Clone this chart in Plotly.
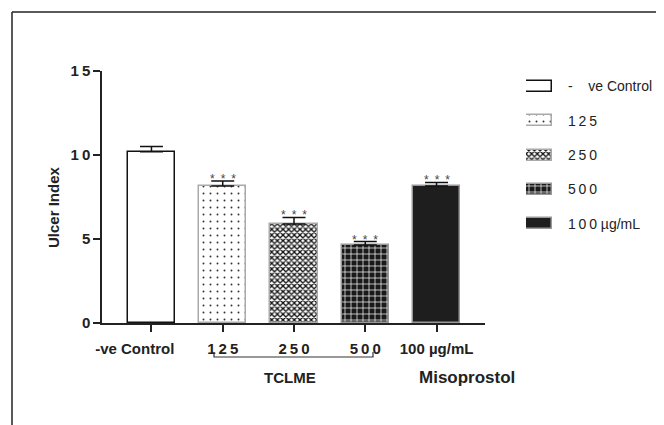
import plotly.graph_objects as go

# ---------------- data ----------------
categories = ["-ve Control", "125", "250", "500", "100 µg/mL"]
tick_text = ["-ve Control\u2007\u2007\u2007\u2007", "1\u20092\u20095", "2\u20095\u20090", "5\u20090\u20090", "100 µg/mL"]
ulcer_index = [10.2, 8.15, 5.9, 4.65, 8.15]
sem = [0.3, 0.3, 0.38, 0.2, 0.22]
significance = ["", "*\u2002*\u2002*", "*\u2002*\u2002*", "*\u2002*\u2002*", "*\u2002*\u2002*"]
legend_labels = ["-\u00a0\u00a0\u00a0\u00a0ve Control", "1\u20092\u20095", "2\u20095\u20090", "5\u20090\u20090", "1\u20090\u20090 µg/mL"]
y_ticks = [0, 5, 10, 15]
y_tick_text = ["0", "5", "1\u20090", "1\u20095"]

FONT = "Liberation Sans, Arial, sans-serif"
OFF = 8  # page body margin
W, H = 664 - OFF, 425 - OFF

fills = [
    dict(color="white", line=dict(color="#111", width=1.5)),
    dict(color="white", line=dict(color="#aaa", width=1.5),
         pattern=dict(shape=".", fgcolor="#333", bgcolor="white", size=7, solidity=0.06)),
    dict(color="white", line=dict(color="#aaa", width=1.5),
         pattern=dict(shape="x", fgcolor="#111", bgcolor="white", size=4, solidity=0.55)),
    dict(color="#1a1a1a", line=dict(color="#999", width=1.5),
         pattern=dict(shape="+", fgcolor="white", bgcolor="#1a1a1a", size=6, solidity=0.22)),
    dict(color="#1e1e1e", line=dict(color="#999", width=1.5)),
]

fig = go.Figure()

xpos = list(range(len(categories)))
for i in range(len(categories)):
    fig.add_trace(go.Bar(
        x=[xpos[i]], y=[ulcer_index[i]], width=0.66,
        marker=fills[i],
        error_y=dict(type="data", symmetric=False, array=[sem[i]], arrayminus=[0],
                     color="#111", thickness=1.5, width=11.5),
        showlegend=False, xaxis="x", yaxis="y",
    ))
    # legend swatch as horizontal bar on a separate axis
    fig.add_trace(go.Bar(
        x=[1], y=[i], orientation="h", width=0.32, marker=fills[i],
        showlegend=False, xaxis="x2", yaxis="y2", hoverinfo="skip",
    ))

def px_x(p):
    return (p - OFF) / W

def px_y(p):
    return 1 - (p - OFF) / H

annotations = []
for i in range(len(categories)):
    if significance[i]:
        annotations.append(dict(
            x=xpos[i], y=ulcer_index[i] + sem[i], xref="x", yref="y",
            text=significance[i], showarrow=False, yanchor="bottom",
            yshift=-7, font=dict(family=FONT, size=12, color="#444"),
        ))
    annotations.append(dict(
        x=px_x(566), y=i, xref="paper", yref="y2", text=legend_labels[i],
        showarrow=False, xanchor="left", yanchor="middle",
        font=dict(family=FONT, size=14, color="#222"),
    ))

annotations += [
    dict(x=2, y=px_y(377), xref="x", yref="paper", text="<b>TCLME</b>", showarrow=False,
         xanchor="center", yanchor="middle", xshift=-4, font=dict(family=FONT, size=15, color="#222")),
    dict(x=4, y=px_y(377), xref="x", yref="paper", text="<b>Misoprostol</b>", showarrow=False,
         xanchor="center", yanchor="middle", xshift=30, font=dict(family=FONT, size=17, color="#222")),
    dict(x=px_x(54), y=px_y(207), xref="paper", yref="paper", text="<b>Ulcer Index</b>",
         showarrow=False, textangle=-90, xanchor="center", yanchor="middle",
         font=dict(family=FONT, size=15, color="#222")),
]

shapes = [
    # outer frame (top & left)
    dict(type="line", xref="paper", yref="paper", x0=px_x(12), x1=1.0, y0=px_y(12), y1=px_y(12),
         line=dict(color="#222", width=1.5)),
    dict(type="line", xref="paper", yref="paper", x0=px_x(12), x1=px_x(12), y0=0, y1=px_y(12),
         line=dict(color="#222", width=1.5)),
    # TCLME bracket
    dict(type="path", xref="paper", yref="paper",
         path=f"M {px_x(214)},{px_y(352)} L {px_x(214)},{px_y(357)} L {px_x(373)},{px_y(357)} L {px_x(373)},{px_y(352)}",
         line=dict(color="#333", width=1.2)),
]

x_lo = -0.694
x_hi = 4.68

fig.update_layout(
    template="none",
    width=W, height=H,
    margin=dict(l=0, r=0, t=0, b=0, pad=0),
    paper_bgcolor="white", plot_bgcolor="rgba(0,0,0,0)",
    font=dict(family=FONT, color="#222"),
    bargap=0,
    xaxis=dict(domain=[px_x(102), px_x(485)], range=[x_lo, x_hi],
               tickvals=xpos, ticktext=[f"<b>{t}</b>" for t in tick_text],
               tickangle=0, automargin=False,
               showline=True, linecolor="#222", linewidth=1.5,
               ticks="outside", ticklen=7, tickwidth=1.5, tickcolor="#222",
               ticklabelstandoff=4,
               tickfont=dict(family=FONT, size=15, color="#222"),
               showgrid=False, zeroline=False, anchor="y"),
    yaxis=dict(domain=[px_y(323), px_y(71)], range=[0, 15],
               tickvals=y_ticks, ticktext=[f"<b>{t}</b>" for t in y_tick_text],
               automargin=False,
               showline=True, linecolor="#222", linewidth=1.5,
               ticks="outside", ticklen=7, tickwidth=1.5, tickcolor="#222",
               tickfont=dict(family=FONT, size=15, color="#222"),
               showgrid=False, zeroline=False, anchor="x"),
    xaxis2=dict(domain=[px_x(526), px_x(552)], range=[0, 1], visible=False, anchor="y2",
                automargin=False),
    yaxis2=dict(domain=[px_y(241), px_y(69)], range=[4.5, -0.5], visible=False, anchor="x2",
                automargin=False),
    annotations=annotations,
    shapes=shapes,
)

fig.write_html("out.html")
